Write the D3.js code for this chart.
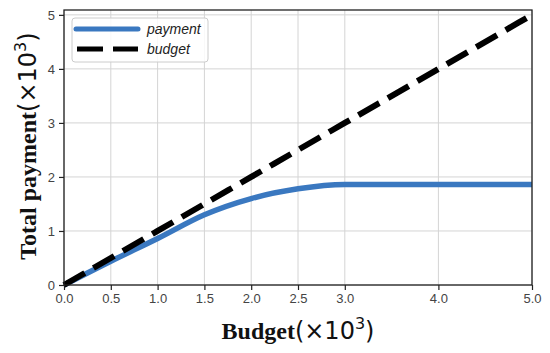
<!DOCTYPE html>
<html>
<head>
<meta charset="utf-8">
<script src="https://cdn.jsdelivr.net/npm/d3@7"></script>
<style>
  body { margin: 0; background: #fff; }
</style>
</head>
<body>
<div id="chart"></div>
<script>
// Data (values in thousands)
const budgetTicks = [0, 0.5, 1.0, 1.5, 2.0, 2.5, 3.0, 4.0, 5.0];
const paymentTicks = [0, 1, 2, 3, 4, 5];
const budget = [0, 0.5, 1.0, 1.5, 2.0, 2.5, 3.0, 4.0, 5.0];
const payment = [0, 0.44, 0.86, 1.3, 1.6, 1.78, 1.86, 1.86, 1.86];
const budgetLine = [0, 0.5, 1.0, 1.5, 2.0, 2.5, 3.0, 4.0, 5.0];
const seriesNames = ["payment", "budget"];

const width = 550, height = 353;
const margin = { top: 10, right: 18, bottom: 68, left: 64 };

const svg = d3.select("#chart").append("svg")
  .attr("width", width)
  .attr("height", height);

const x = d3.scaleLinear()
  .domain([0, 5])
  .range([margin.left, width - margin.right]);

const y = d3.scaleLinear()
  .domain([0, 5.09])
  .range([height - margin.bottom, margin.top]);

const chartW = width - margin.left - margin.right;
const chartH = height - margin.top - margin.bottom;

// grid
svg.append("g")
  .selectAll("line")
  .data(budgetTicks)
  .join("line")
  .attr("x1", (d) => x(d)).attr("x2", (d) => x(d))
  .attr("y1", margin.top).attr("y2", height - margin.bottom)
  .attr("stroke", "#d4d4d4")
  .attr("stroke-width", 1);

svg.append("g")
  .selectAll("line")
  .data(paymentTicks)
  .join("line")
  .attr("x1", margin.left).attr("x2", width - margin.right)
  .attr("y1", (d) => y(d)).attr("y2", (d) => y(d))
  .attr("stroke", "#d4d4d4")
  .attr("stroke-width", 1);

// lines
const line = d3.line()
  .x((d) => x(d[0]))
  .y((d) => y(d[1]))
  .curve(d3.curveMonotoneX);

svg.append("path")
  .datum(budget.map((b, i) => [b, payment[i]]))
  .attr("fill", "none")
  .attr("stroke", "#3a78c0")
  .attr("stroke-width", 5.5)
  .attr("d", line);

svg.append("path")
  .datum(budgetLine.map((b) => [b, b]))
  .attr("fill", "none")
  .attr("stroke", "#000")
  .attr("stroke-width", 6)
  .attr("stroke-dasharray", "24,10")
  .attr("d", line);

// frame
svg.append("rect")
  .attr("x", margin.left).attr("y", margin.top)
  .attr("width", chartW).attr("height", chartH)
  .attr("fill", "none")
  .attr("stroke", "#222")
  .attr("stroke-width", 1.3);

// axes
const xAxis = svg.append("g")
  .attr("transform", `translate(0,${height - margin.bottom})`)
  .call(d3.axisBottom(x).tickValues(budgetTicks).tickFormat(d3.format(".1f")).tickSize(5).tickPadding(4));
const yAxis = svg.append("g")
  .attr("transform", `translate(${margin.left},0)`)
  .call(d3.axisLeft(y).tickValues(paymentTicks).tickFormat(d3.format("d")).tickSize(5).tickPadding(4));

[xAxis, yAxis].forEach((g) => {
  g.select(".domain").remove();
  g.selectAll("line").attr("stroke", "#222").attr("stroke-width", 1.2);
  g.selectAll("text")
    .attr("fill", "#444")
    .style("font-family", "'Liberation Sans', Arial, sans-serif")
    .style("font-size", "13px");
});

// axis titles
function axisTitle(sel, label) {
  sel.append("tspan").style("font-family", "'Liberation Serif', 'Times New Roman', serif").style("font-weight", "bold").text(label);
  sel.append("tspan").style("font-family", "'DejaVu Sans', sans-serif").text("(×10");
  sel.append("tspan").style("font-family", "'DejaVu Sans', sans-serif").style("font-size", "16px").attr("dy", -10).text("3");
  sel.append("tspan").style("font-family", "'DejaVu Sans', sans-serif").attr("dy", 10).text(")");
}

const xt = svg.append("text")
  .attr("x", 298)
  .attr("y", 339)
  .attr("text-anchor", "middle")
  .attr("fill", "#111")
  .style("font-size", "24px");
axisTitle(xt, "Budget");

const yt = svg.append("text")
  .attr("transform", `translate(36,146) rotate(-90)`)
  .attr("text-anchor", "middle")
  .attr("fill", "#111")
  .style("font-size", "24px");
axisTitle(yt, "Total payment");

// legend
const legend = svg.append("g").attr("transform", `translate(72,18)`);
legend.append("rect")
  .attr("width", 136).attr("height", 44)
  .attr("rx", 3)
  .attr("fill", "#fff").attr("fill-opacity", 0.85)
  .attr("stroke", "#ccc");
const legendStyles = [
  { stroke: "#3a78c0", dash: null, cap: "round" },
  { stroke: "#000", dash: "26,10", cap: "butt" },
];
seriesNames.forEach((name, i) => {
  const row = legend.append("g").attr("transform", `translate(0,${11 + i * 20})`);
  row.append("line")
    .attr("x1", i === 0 ? 4 : 5).attr("x2", 66)
    .attr("stroke", legendStyles[i].stroke)
    .attr("stroke-width", 5)
    .attr("stroke-linecap", legendStyles[i].cap)
    .attr("stroke-dasharray", legendStyles[i].dash);
  row.append("text")
    .attr("x", 75).attr("y", 5)
    .attr("fill", "#222")
    .style("font-family", "'Liberation Sans', Arial, sans-serif")
    .style("font-style", "italic")
    .style("font-size", "14px")
    .text(name);
});
</script>
</body>
</html>
